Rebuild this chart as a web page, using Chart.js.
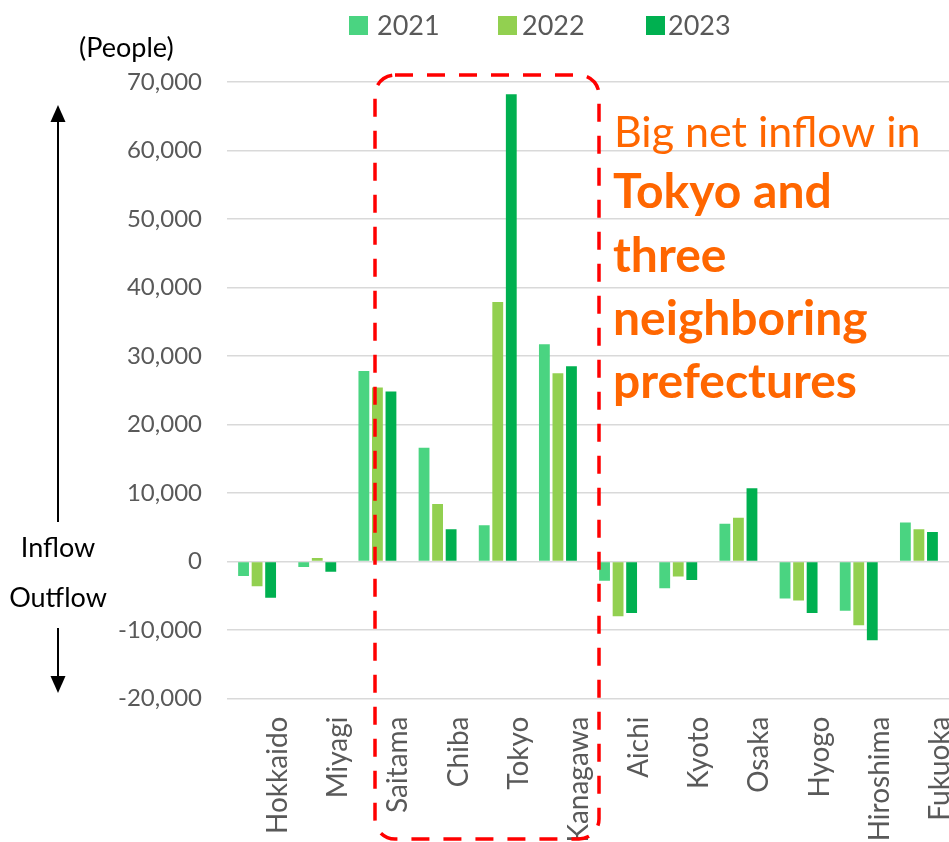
<!DOCTYPE html>
<html>
<head>
<meta charset="utf-8">
<script src="https://cdn.jsdelivr.net/npm/chart.js@4"></script>
<style>
  html, body { margin: 0; padding: 0; background: #fff; }
  #wrap { width: 949px; height: 842px; position: relative; }
</style>
</head>
<body>
<div id="wrap"><canvas id="c" width="949" height="842"></canvas></div>
<script>
const categories = ["Hokkaido", "Miyagi", "Saitama", "Chiba", "Tokyo", "Kanagawa", "Aichi", "Kyoto", "Osaka", "Hyogo", "Hiroshima", "Fukuoka"];
const seriesLabels = ["2021", "2022", "2023"];
const values2021 = [-2100, -800, 27800, 16600, 5300, 31700, -2800, -3900, 5500, -5400, -7200, 5700];
const values2022 = [-3600, 500, 25400, 8400, 37900, 27500, -8000, -2200, 6400, -5700, -9300, 4700];
const values2023 = [-5300, -1500, 24800, 4700, 68200, 28500, -7500, -2700, 10700, -7500, -11500, 4300];
const yTicks = [-20000, -10000, 0, 10000, 20000, 30000, 40000, 50000, 60000, 70000];
const colors = ["#4AD481", "#92D050", "#00B050"];

const FONT = "Lato, 'Noto Sans', sans-serif";

const annotations = {
  id: "annotations",
  afterDraw(chart) {
    const ctx = chart.ctx;
    ctx.save();
    // custom legend
    const boxX = [349, 498, 646];
    const textX = [377, 522, 668];
    ctx.font = "27px " + FONT;
    ctx.textBaseline = "middle";
    ctx.textAlign = "left";
    chart.data.datasets.forEach((ds, i) => {
      ctx.fillStyle = ds.backgroundColor;
      ctx.fillRect(boxX[i], 16, 19, 19);
      ctx.fillStyle = "#595959";
      ctx.fillText(ds.label, textX[i], 26);
    });

    // left labels
    ctx.fillStyle = "#000";
    ctx.font = "27px " + FONT;
    ctx.textAlign = "left";
    ctx.fillText("(People)", 79, 48);
    ctx.textAlign = "center";
    ctx.fillText("Inflow", 58, 548);
    ctx.fillText("Outflow", 58, 598);

    // arrows
    ctx.strokeStyle = "#000";
    ctx.fillStyle = "#000";
    ctx.lineWidth = 2;
    ctx.beginPath();
    ctx.moveTo(58, 120); ctx.lineTo(58, 522);
    ctx.moveTo(58, 628); ctx.lineTo(58, 680);
    ctx.stroke();
    ctx.beginPath();
    ctx.moveTo(58, 105); ctx.lineTo(50.5, 122); ctx.lineTo(65.5, 122); ctx.closePath(); ctx.fill();
    ctx.beginPath();
    ctx.moveTo(58, 693); ctx.lineTo(50.5, 676); ctx.lineTo(65.5, 676); ctx.closePath(); ctx.fill();

    // dashed rounded box
    ctx.strokeStyle = "#FF0000";
    ctx.lineWidth = 3.5;
    ctx.setLineDash([18, 14]);
    ctx.beginPath();
    if (ctx.roundRect) {
      ctx.roundRect(375, 75, 224, 764, 20);
    } else {
      ctx.rect(375, 75, 224, 764);
    }
    ctx.stroke();
    ctx.setLineDash([]);

    // orange text
    ctx.fillStyle = "#FF6600";
    ctx.textAlign = "left";
    ctx.textBaseline = "alphabetic";
    ctx.font = "43px " + FONT;
    ctx.fillText("Big net inflow in", 614, 147);
    ctx.font = "bold 48px " + FONT;
    ctx.fillText("Tokyo and", 613, 208);
    ctx.fillText("three", 613, 272);
    ctx.fillText("neighboring", 613, 335);
    ctx.fillText("prefectures", 613, 398);
    ctx.restore();
  }
};

new Chart(document.getElementById("c"), {
  type: "bar",
  data: {
    labels: categories,
    datasets: [
      { label: seriesLabels[0], data: values2021, backgroundColor: colors[0] },
      { label: seriesLabels[1], data: values2022, backgroundColor: colors[1] },
      { label: seriesLabels[2], data: values2023, backgroundColor: colors[2] }
    ]
  },
  options: {
    responsive: false,
    animation: false,
    layout: { padding: { left: 0, right: 0, top: 82, bottom: 0 } },
    datasets: { bar: { categoryPercentage: 0.675, barPercentage: 0.8 } },
    plugins: { legend: { display: false }, tooltip: { enabled: false } },
    scales: {
      x: {
        grid: { display: false, drawTicks: false },
        border: { display: false },
        afterFit: s => { s.height = 143.5; s.paddingLeft = 0; s.paddingRight = 0; },
        ticks: {
          minRotation: 90, maxRotation: 90, autoSkip: false,
          padding: 18, labelOffset: 21,
          color: "#595959", font: { family: FONT, size: 28 }
        }
      },
      y: {
        min: -20000, max: 70000,
        afterFit: s => { s.width = 227; s.paddingTop = 0; s.paddingBottom = 0; },
        afterBuildTicks: s => { s.ticks = yTicks.map(v => ({ value: v })); },
        grid: { color: "#D9D9D9", lineWidth: 1.5, drawTicks: false },
        border: { display: false },
        ticks: {
          padding: 25, color: "#595959", font: { family: FONT, size: 24 },
          callback: v => v.toLocaleString("en-US")
        }
      }
    }
  },
  plugins: [annotations]
});
</script>
</body>
</html>
